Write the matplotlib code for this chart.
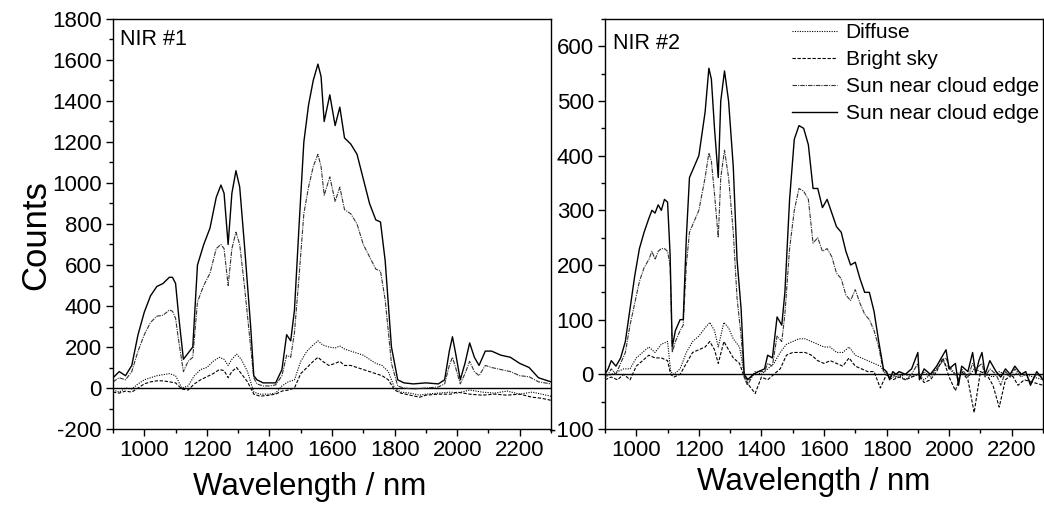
import numpy as np
import matplotlib
matplotlib.use("Agg")
import matplotlib.pyplot as plt
from matplotlib.ticker import MultipleLocator

plt.rcParams['font.family'] = ['Liberation Sans', 'DejaVu Sans']
plt.rcParams['axes.unicode_minus'] = False

# ---- NIR #1 ----
wl_s1 = [900, 920, 940, 960, 980, 1000, 1020, 1040, 1060, 1080, 1090, 1100, 1110, 1125, 1140, 1155,
         1170, 1190, 1210, 1230, 1245, 1255, 1268, 1280, 1293, 1305, 1320, 1340, 1350, 1360, 1380,
         1400, 1420, 1440, 1455, 1468, 1480, 1495, 1510, 1525, 1540, 1555, 1565, 1575, 1593, 1610,
         1625, 1640, 1660, 1680, 1700, 1720, 1740, 1755, 1770, 1790, 1810, 1830, 1860, 1900, 1940,
         1960, 1975, 1985, 1995, 2010, 2025, 2040, 2055, 2070, 2090, 2110, 2140, 2170, 2200, 2230,
         2260, 2300]
sun1 = [50, 80, 60, 110, 260, 370, 450, 495, 510, 540, 540, 510, 350, 140, 170, 200,
        600, 700, 780, 930, 990, 950, 700, 950, 1060, 980, 700, 300, 60, 40, 25,
        25, 25, 90, 260, 230, 380, 800, 1200, 1380, 1500, 1580, 1520, 1300, 1430, 1280,
        1370, 1220, 1190, 1140, 1020, 900, 820, 810, 620, 200, 40, 25, 20, 25, 20,
        40, 180, 250, 170, 40, 120, 220, 150, 110, 180, 180, 160, 150, 120, 100,
        50, 30]
sun1b = [30, 50, 40, 80, 180, 260, 320, 350, 355, 380, 375, 340, 230, 80, 130, 150,
         420, 500, 560, 680, 700, 680, 500, 680, 760, 700, 500, 200, 50, 20, 10,
         10, 15, 60, 160, 150, 270, 550, 850, 980, 1080, 1140, 1080, 940, 1030, 910,
         980, 870, 850, 800, 700, 640, 580, 570, 430, 120, 10, 0, -5, 0, 5,
         20, 110, 150, 100, 20, 70, 130, 80, 60, 110, 100, 90, 80, 60, 55,
         30, 20]

wl_f1 = [900, 920, 940, 960, 980, 1000, 1020, 1040, 1060, 1080, 1100, 1120, 1140, 1160, 1180, 1200,
         1220, 1240, 1255, 1268, 1280, 1295, 1310, 1330, 1350, 1370, 1400, 1420, 1440, 1460, 1480,
         1500, 1520, 1540, 1555, 1570, 1590, 1610, 1625, 1640, 1660, 1680, 1700, 1720, 1740, 1760,
         1780, 1800, 1820, 1850, 1880, 1900, 1940, 1980, 2000, 2040, 2080, 2120, 2160, 2200, 2240,
         2270, 2300]
diffuse1 = [-10, -20, 0, -5, 20, 40, 50, 60, 65, 70, 60, 0, 10, 60, 90, 100,
            130, 150, 140, 110, 140, 165, 140, 80, -20, -30, -30, -25, 10, 30, 40,
            130, 180, 210, 230, 210, 200, 195, 205, 190, 180, 170, 160, 140, 120, 110,
            80, 0, -20, -25, -35, -30, -25, -20, -25, -10, -20, -25, -15, -30, -20,
            -30, -40]
bright1 = [-20, -25, -15, -20, 0, 20, 30, 35, 35, 30, 25, -5, -10, 20, 40, 55,
           70, 90, 85, 50, 80, 100, 70, 30, -30, -40, -35, -30, -15, -10, 0,
           70, 100, 130, 150, 130, 110, 120, 130, 110, 110, 100, 90, 80, 70, 60,
           40, -10, -25, -35, -45, -35, -30, -30, -20, -30, -35, -30, -35, -30, -45,
           -50, -60]

# ---- NIR #2 ----
wl_s2 = [900, 910, 920, 935, 950, 965, 980, 995, 1010, 1025, 1040, 1050, 1060, 1070, 1080, 1090,
         1100, 1108, 1115, 1125, 1140, 1150, 1160, 1170, 1185, 1200, 1210, 1220, 1232, 1240, 1250,
         1262, 1270, 1282, 1295, 1310, 1322, 1335, 1345, 1355, 1365, 1375, 1390, 1410, 1420, 1435,
         1450, 1465, 1475, 1490, 1505, 1520, 1535, 1550, 1565, 1580, 1595, 1610, 1625, 1640, 1655,
         1670, 1685, 1700, 1715, 1730, 1745, 1760, 1775, 1790, 1800, 1810, 1820, 1830, 1840, 1860,
         1880, 1900, 1905, 1920, 1940, 1960, 1980, 1990, 2000, 2020, 2030, 2040, 2060, 2075, 2085,
         2095, 2105, 2115, 2130, 2150, 2165, 2180, 2195, 2210, 2230, 2245, 2260, 2280, 2300]
sun2 = [0, 10, 25, 15, 30, 60, 120, 180, 230, 260, 285, 300, 295, 310, 300, 320,
        315, 220, 50, 80, 100, 100, 250, 360, 380, 400, 440, 480, 560, 540, 450,
        360, 500, 555, 500, 380, 210, 120, 0, -10, -5, 0, 5, 10, 35, 30,
        105, 90, 150, 320, 430, 455, 450, 420, 340, 340, 305, 320, 295, 270, 260,
        225, 200, 205, 175, 150, 150, 115, 60, 10, 5, -10, 5, 0, 5, 0,
        10, 40, -10, 10, 0, 15, 35, 45, 10, 20, -20, 15, 5, 40, 0,
        25, 40, 0, 25, 5, -5, 10, 0, 15, 0, 5, -20, 5, -10]
sun2b = [-5, 0, 10, 0, 20, 40, 90, 130, 170, 195, 210, 225, 210, 225, 230, 230,
         225, 200, 40, 60, 80, 90, 200, 260, 280, 300, 330, 360, 405, 390, 330,
         250, 360, 410, 360, 260, 140, 70, -5, -20, -10, 0, 5, 5, 20, 15,
         70, 60, 110, 230, 300, 340, 335, 320, 240, 250, 225, 230, 215, 185, 175,
         145, 135, 155, 130, 110, 100, 80, 50, 5, 0, -5, 0, -5, 0, -10,
         0, 20, -5, 5, -5, 10, 25, 30, 15, 0, -10, 10, -5, 20, 10,
         15, 20, -5, 10, 0, -20, 5, -5, 10, -5, 0, -15, 0, -5]

wl_f2 = [900, 920, 940, 960, 980, 1000, 1020, 1040, 1060, 1080, 1100, 1110, 1120, 1140, 1160, 1180,
         1200, 1220, 1235, 1250, 1262, 1280, 1295, 1310, 1330, 1345, 1360, 1380, 1400, 1420, 1440,
         1460, 1480, 1500, 1520, 1540, 1560, 1580, 1600, 1620, 1640, 1660, 1680, 1700, 1720, 1740,
         1760, 1780, 1800, 1820, 1840, 1860, 1880, 1900, 1920, 1940, 1960, 1980, 2000, 2020, 2040,
         2060, 2080, 2100, 2120, 2140, 2160, 2180, 2200, 2220, 2240, 2270, 2300]
diffuse2 = [-5, 0, 5, 10, 10, 30, 40, 50, 40, 55, 60, 5, 0, 10, 40, 60,
            70, 85, 95, 80, 50, 95, 85, 65, 50, 0, -10, 5, 0, 10, 20,
            40, 55, 60, 65, 65, 60, 55, 50, 50, 40, 40, 50, 35, 30, 25,
            20, 15, 0, -5, -5, 0, -5, 0, -10, 0, 10, 25, 10, 0, 5,
            -5, 10, 5, 0, -5, 5, 0, -5, 5, 0, -5, -10]
bright2 = [-10, -5, -10, 0, -10, 15, 25, 35, 30, 30, 25, 0, -5, 0, 20, 40,
           45, 50, 60, 45, 20, 60, 45, 30, 20, -5, -20, -35, -5, -10, 0,
           10, 35, 40, 40, 40, 35, 25, 20, 25, 20, 15, 30, 15, 10, 5,
           5, -25, 0, -10, -5, -10, -5, 0, -15, -10, 5, 30, -5, -30, 5,
           -10, -70, 5, 0, -20, -60, -10, 0, -20, -10, -15, -20]

labels = ["Diffuse", "Bright sky", "Sun near cloud edge", "Sun near cloud edge"]

fig = plt.figure(figsize=(10.44, 5.08), dpi=100)
ax2 = fig.add_axes([605 / 1044, 79 / 508, 438 / 1044, 410 / 508])
ax1 = fig.add_axes([113 / 1044, 79 / 508, 438 / 1044, 410 / 508])
ax1.set_zorder(3)
ax1.patch.set_facecolor('white')

sty_dot = dict(color='black', lw=0.8, ls=(0, (1, 1.2)))
sty_dash = dict(color='black', lw=0.8, ls=(0, (3, 1.5)))
sty_dd = dict(color='#333333', lw=0.8, ls=(0, (4, 1, 1, 1)))
sty_sol = dict(color='black', lw=1.0, ls='-')

ax1.axhline(0, color='black', lw=1.0)
ax1.plot(wl_f1, diffuse1, **sty_dot)
ax1.plot(wl_f1, bright1, **sty_dash)
ax1.plot(wl_s1, sun1b, **sty_dd)
ax1.plot(wl_s1, sun1, **sty_sol)

ax2.axhline(0, color='black', lw=1.0)
ax2.plot(wl_f2, diffuse2, label=labels[0], **sty_dot)
ax2.plot(wl_f2, bright2, label=labels[1], **sty_dash)
ax2.plot(wl_s2, sun2b, label=labels[2], **sty_dd)
ax2.plot(wl_s2, sun2, label=labels[3], **sty_sol)

for ax in (ax1, ax2):
    ax.set_xlim(900, 2300)
    ax.xaxis.set_major_locator(MultipleLocator(200))
    ax.xaxis.set_minor_locator(MultipleLocator(100))
    ax.tick_params(which='both', direction='out', labelsize=16, top=False, right=False)
    ax.tick_params(which='major', length=5, width=1, pad=3)
    ax.tick_params(which='minor', length=3, width=1)
    for s in ax.spines.values():
        s.set_linewidth(1.0)
    ax.set_xlabel("Wavelength / nm", fontsize=22.5)

ax1.xaxis.set_label_coords(0.45, -0.105)
ax2.xaxis.set_label_coords(0.477, -0.093)

ax1.set_ylim(-200, 1800)
ax1.yaxis.set_major_locator(MultipleLocator(200))
ax1.yaxis.set_minor_locator(MultipleLocator(100))
ax1.set_ylabel("Counts", fontsize=25)
ax1.yaxis.set_label_coords(-0.138, 0.473)
ax1.text(0.015, 0.975, "NIR #1", transform=ax1.transAxes, fontsize=15.5, va='top', ha='left')

ax2.set_ylim(-100, 650)
ax2.yaxis.set_major_locator(MultipleLocator(100))
ax2.yaxis.set_minor_locator(MultipleLocator(50))
ax2.text(0.018, 0.965, "NIR #2", transform=ax2.transAxes, fontsize=15.5, va='top', ha='left')
ax2.legend(loc='upper right', frameon=False, fontsize=15, handlelength=2.2,
           labelspacing=0.38, handletextpad=0.4, borderaxespad=0.1, borderpad=0.1)

fig.savefig("out.png", dpi=100)
